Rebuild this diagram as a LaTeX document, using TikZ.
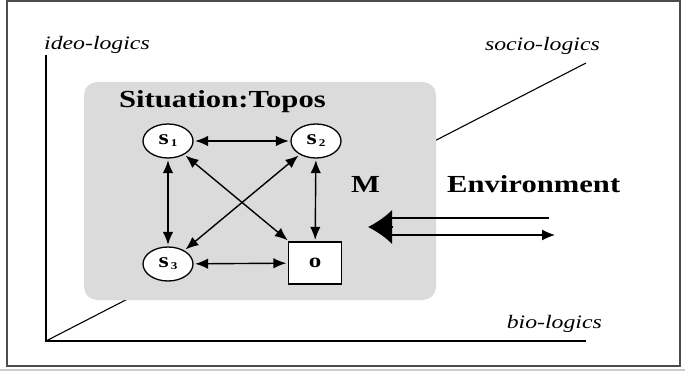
\documentclass[tikz,border=0pt]{standalone}
\usepackage{fontspec}
\setmainfont{Liberation Serif}[FakeStretch=1.25]
\usetikzlibrary{shapes.geometric,arrows.meta}

\colorlet{topos area}{gray!28}
\colorlet{frame edge}{gray!60!black}
\tikzset{axis/.style={line width=1.3pt},
    agent/.style={ellipse, draw, fill=white, line width=1.3pt,
        minimum width=50pt, minimum height=34pt, inner sep=0pt,
        font=\fontsize{21}{21}\selectfont\bfseries},
    object/.style={rectangle, draw, fill=white, line width=1.3pt,
        minimum width=53pt, minimum height=42pt, inner sep=0pt,
        font=\fontsize{20}{20}\selectfont\bfseries},
    link/.style={{Latex[length=13pt,width=10.5pt]}-{Latex[length=13pt,width=10.5pt]},
        line width=1.4pt, shorten <=1.5pt, shorten >=1.5pt},
    axislabel/.style={font=\fontsize{19}{22}\selectfont\itshape, inner sep=0pt},
    title/.style={font=\fontsize{24.5}{28}\selectfont\bfseries, inner sep=0pt}}
\newcommand{\agentname}[1]{s\kern2pt\raisebox{-2pt}{\fontsize{10.5}{10.5}\selectfont #1}}

\begin{document}
\begin{tikzpicture}[x=1pt, y=-1pt]
    \useasboundingbox (0,0) rectangle (685,371);
    % frame
    \draw[frame edge, line width=1.5pt] (7,1) rectangle (680,366);
    \draw[gray!40, line width=2pt] (0,370) -- (685,370);
    % axes
    \coordinate (origin) at (46,341);
    \coordinate (ideo) at (46,55);
    \coordinate (bio) at (586,341);
    \coordinate (socio) at (586,63);
    \draw[axis] (ideo) -- (origin) -- (bio);
    \draw[line width=1.1pt] (origin) -- (socio);
    \node[axislabel, anchor=base west] at (44,50) {ideo-logics};
    \node[axislabel, anchor=base east] at (600,51) {socio-logics};
    \node[axislabel, anchor=base east] at (602,328) {bio-logics};
    % the situation
    \fill[topos area, rounded corners=13pt] (84,82) rectangle (436,300);
    \node[title, anchor=base west] at (119,108) {Situation:Topos};
    \node[agent] (s1) at (168,141) {\agentname{1}};
    \node[agent] (s2) at (316,141) {\agentname{2}};
    \node[agent] (s3) at (168,264) {\agentname{3}};
    \node[object] (o) at (315,263) {o};
    \draw[link] (s1) -- (s2);
    \draw[link] (s1) -- (s3);
    \draw[link] (s2) -- (o);
    \draw[link] (s3) -- (o);
    \draw[link] (s1) -- (o);
    \draw[link] (s2) -- (s3);
    \node[title, anchor=base west] (m) at (351,193) {M};
    % environment
    \node[title, anchor=base west] (env) at (447,193) {Environment};
    \coordinate (envtip) at (368,227);
    \coordinate (envbase) at (393,227);
    \coordinate (inA) at (392,218);
    \coordinate (inB) at (549,218);
    \coordinate (outA) at (392,235);
    \coordinate (outB) at (555,235);
    \draw[line width=1.3pt, -{Latex[length=24pt,width=34pt]}] (envbase) -- (envtip);
    \draw[line width=1.3pt] (inB) -- (inA);
    \draw[line width=1.3pt, -{Latex[length=13pt,width=11pt]}] (outA) -- (outB);
\end{tikzpicture}
\end{document}
